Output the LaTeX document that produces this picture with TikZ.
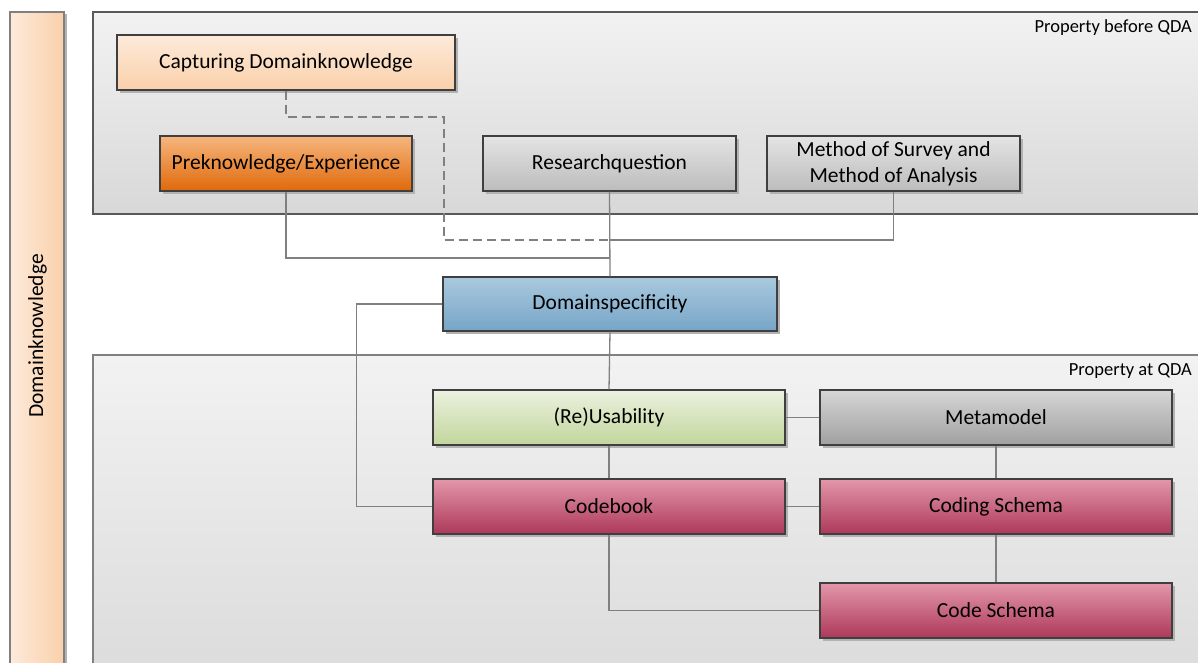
\documentclass[tikz,border=0pt]{standalone}
\usepackage{fontspec}
\setmainfont{Carlito}
\usetikzlibrary{shadows}

\definecolor{boxline}{HTML}{3F3F3F}
\definecolor{connline}{HTML}{808080}
\definecolor{peachA}{HTML}{FDEADA}
\definecolor{peachB}{HTML}{FAD0AA}
\definecolor{orangeA}{HTML}{F6B67E}
\definecolor{orangeB}{HTML}{E0690A}
\definecolor{greyA}{HTML}{E4E4E4}
\definecolor{greyB}{HTML}{BCBCBC}
\definecolor{metaA}{HTML}{D6D6D6}
\definecolor{metaB}{HTML}{A0A0A0}
\definecolor{blueA}{HTML}{A9C9DE}
\definecolor{blueB}{HTML}{77A5C7}
\definecolor{greenA}{HTML}{EBF1DF}
\definecolor{greenB}{HTML}{C2D69C}
\definecolor{redA}{HTML}{E397AA}
\definecolor{redB}{HTML}{AD385A}
\definecolor{frameA}{HTML}{F2F2F2}
\definecolor{frameB}{HTML}{D8D8D8}

\begin{document}
\begin{tikzpicture}[x=1pt, y=-1pt,
  every node/.style={font=\fontsize{21.5}{26}\selectfont, text=black},
  box/.style={shape=rectangle, draw=boxline, line width=1.1pt, minimum height=55pt, inner sep=0pt, align=center,
    drop shadow={shadow xshift=2.5pt, shadow yshift=-2.5pt, fill=black!30, opacity=1}},
  peachbox/.style={box, top color=peachA, bottom color=peachB},
  orangebox/.style={box, top color=orangeA, bottom color=orangeB},
  greybox/.style={box, top color=greyA, bottom color=greyB},
  metabox/.style={box, top color=metaA, bottom color=metaB},
  bluebox/.style={box, top color=blueA, bottom color=blueB},
  greenbox/.style={box, top color=greenA, bottom color=greenB},
  redbox/.style={box, top color=redA, bottom color=redB},
  frame/.style={line width=1.1pt, top color=frameA, bottom color=frameB},
  tag/.style={font=\fontsize{18.5}{22}\selectfont, anchor=base east, inner sep=0pt},
  conn/.style={draw=connline, line width=1.3pt},
  dconn/.style={conn, dash pattern=on 9pt off 5pt}]
\clip (0,0) rectangle (1198,662);

% background bands
\fill[black!30] (12,14) rectangle (67,680);
\draw[draw=connline, line width=1.1pt, left color=peachA, right color=peachB] (10,12) rectangle (64,680);
\node[rotate=90] (domknow) at (37.5,336) {Domainknowledge};

\draw[frame, draw=black!65] (93,12) rectangle (1210,214);
\draw[frame, draw=black!50, bottom color=black!14] (93,355) rectangle (1210,680);
\node[tag] (before) at (1192,32) {Property before QDA};
\node[tag] (atqda) at (1192,375) {Property at QDA};

% property before QDA
\node[peachbox, minimum width=338pt] (capt) at (286,62.5) {Capturing Domainknowledge};
\node[orangebox, minimum width=252pt] (preknow) at (286,163.5) {Preknowledge/Experience};
\node[greybox, minimum width=253pt] (resq) at (609.5,163.5) {Researchquestion};
\node[greybox, minimum width=253pt] (method) at (893.5,163.5) {Method of Survey and\\Method of Analysis};

\node[bluebox, minimum width=334pt, minimum height=54pt] (domspec) at (610,304) {Domainspecificity};

% property at QDA
\node[greenbox, minimum width=352pt] (reuse) at (609,417.5) {(Re)Usability};
\node[metabox, minimum width=352pt] (meta) at (996,417.5) {Metamodel};
\node[redbox, minimum width=352pt] (codebook) at (609,506.5) {Codebook};
\node[redbox, minimum width=352pt] (codingschema) at (996,506.5) {Coding Schema};
\node[redbox, minimum width=352pt] (codeschema) at (996,610.5) {Code Schema};

% connectors
\coordinate (jmid) at (610,240);
\coordinate (jlow) at (610,258);
\coordinate (dbend) at (444,117);
\draw[dconn] (capt.south) |- (dbend) |- (jmid);
\draw[conn] (preknow.south) |- (jlow);
\draw[conn] (method.south) |- (jmid);
\draw[conn] (resq.south) -- (domspec.north);
\draw[conn] (domspec.west) -- ++(-86,0) |- (codebook.west);
\draw[conn] (domspec.south) -- (reuse.north);
\draw[conn] (reuse.south) -- (codebook.north);
\draw[conn] (reuse.east) -- (meta.west);
\draw[conn] (meta.south) -- (codingschema.north);
\draw[conn] (codebook.east) -- (codingschema.west);
\draw[conn] (codingschema.south) -- (codeschema.north);
\draw[conn] (codebook.south) |- (codeschema.west);
\end{tikzpicture}
\end{document}
